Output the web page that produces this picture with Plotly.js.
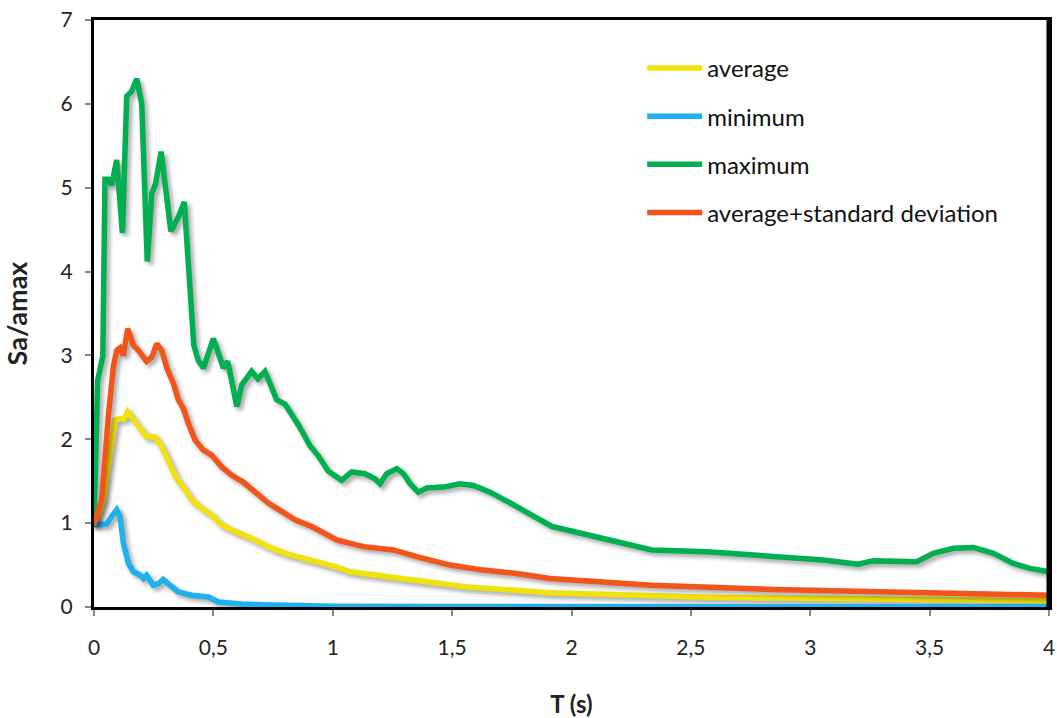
<!DOCTYPE html>
<html>
<head>
<meta charset="utf-8">
<script src="https://cdn.plot.ly/plotly-3.0.1.min.js"></script>
<style>
html,body{margin:0;padding:0;background:#fff;}
#chart{width:1057px;height:718px;}
.scatterlayer path.js-line{filter:drop-shadow(3px 3px 2px rgba(0,0,0,0.35));}
</style>
</head>
<body>
<div id="chart"></div>
<script>
// ---- data ----
const seriesNames = ["average", "minimum", "maximum", "average+standard deviation"];

const avgT = [0, 0.02, 0.039, 0.067, 0.088, 0.109, 0.125, 0.141, 0.165, 0.193, 0.22, 0.255, 0.284, 0.311, 0.346, 0.374, 0.409, 0.451, 0.493, 0.535, 0.591, 0.66, 0.73, 0.8, 0.912, 1.01, 1.072, 1.254, 1.394, 1.561, 1.77, 1.91, 2.566, 3.26, 4.0];
const avgSa = [0.98, 1.1, 1.28, 1.87, 2.23, 2.25, 2.24, 2.33, 2.23, 2.13, 2.03, 2.03, 1.91, 1.73, 1.53, 1.43, 1.28, 1.18, 1.10, 0.98, 0.90, 0.82, 0.72, 0.64, 0.56, 0.48, 0.42, 0.36, 0.30, 0.24, 0.19, 0.17, 0.115, 0.09, 0.075];

const minT = [0, 0.053, 0.074, 0.095, 0.109, 0.123, 0.144, 0.165, 0.193, 0.207, 0.22, 0.248, 0.27, 0.29, 0.318, 0.353, 0.409, 0.479, 0.521, 0.619, 0.8, 1.01, 1.5, 2.0, 3.0, 4.0];
const minSa = [0.98, 0.99, 1.08, 1.16, 1.08, 0.76, 0.52, 0.42, 0.38, 0.34, 0.38, 0.26, 0.28, 0.33, 0.26, 0.18, 0.14, 0.12, 0.06, 0.035, 0.02, 0.01, 0.005, 0.003, 0.002, 0.002];

const maxT = [0, 0.008, 0.015, 0.03, 0.037, 0.046, 0.06, 0.074, 0.095, 0.119, 0.137, 0.158, 0.179, 0.2, 0.223, 0.242, 0.258, 0.281, 0.322, 0.353, 0.378, 0.418, 0.437, 0.458, 0.5, 0.542, 0.56, 0.598, 0.619, 0.66, 0.686, 0.716, 0.765, 0.8, 0.856, 0.905, 0.94, 0.981, 1.037, 1.079, 1.135, 1.177, 1.198, 1.226, 1.268, 1.296, 1.324, 1.358, 1.394, 1.463, 1.533, 1.589, 1.659, 1.756, 1.84, 1.917, 2.008, 2.147, 2.336, 2.566, 2.845, 3.055, 3.2, 3.264, 3.446, 3.515, 3.6, 3.683, 3.767, 3.85, 3.92, 4.0];
const maxSa = [0.98, 2.0, 2.7, 2.9, 3.0, 5.1, 5.1, 5.03, 5.33, 4.46, 6.09, 6.15, 6.30, 6.0, 4.12, 4.93, 5.05, 5.43, 4.48, 4.65, 4.83, 3.12, 2.94, 2.85, 3.20, 2.85, 2.93, 2.39, 2.65, 2.81, 2.72, 2.81, 2.47, 2.42, 2.17, 1.92, 1.80, 1.62, 1.51, 1.61, 1.59, 1.53, 1.47, 1.59, 1.65, 1.59, 1.47, 1.37, 1.42, 1.43, 1.47, 1.45, 1.37, 1.22, 1.08, 0.96, 0.90, 0.80, 0.68, 0.66, 0.60, 0.56, 0.51, 0.55, 0.54, 0.64, 0.70, 0.71, 0.64, 0.52, 0.46, 0.42];

const sdT = [0, 0.015, 0.032, 0.06, 0.081, 0.095, 0.109, 0.123, 0.141, 0.165, 0.186, 0.22, 0.242, 0.263, 0.284, 0.305, 0.332, 0.353, 0.374, 0.395, 0.423, 0.458, 0.493, 0.535, 0.577, 0.625, 0.674, 0.73, 0.786, 0.842, 0.912, 0.981, 1.017, 1.128, 1.254, 1.352, 1.491, 1.631, 1.77, 1.91, 2.336, 2.845, 3.404, 3.68, 4.0];
const sdSa = [0.98, 1.1, 1.28, 2.27, 2.87, 3.06, 3.09, 3.0, 3.32, 3.12, 3.06, 2.93, 2.98, 3.14, 3.06, 2.85, 2.67, 2.47, 2.37, 2.19, 1.99, 1.87, 1.81, 1.67, 1.57, 1.49, 1.37, 1.24, 1.14, 1.04, 0.96, 0.86, 0.80, 0.72, 0.68, 0.60, 0.50, 0.44, 0.40, 0.34, 0.26, 0.21, 0.175, 0.16, 0.14];

const xTickVals = [0, 0.5, 1, 1.5, 2, 2.5, 3, 3.5, 4];
const xTickText = ["0", "0,5", "1", "1,5", "2", "2,5", "3", "3,5", "4"];
const yTickVals = [0, 1, 2, 3, 4, 5, 6, 7];

const colors = ["#F2E20C", "#1FB0EE", "#00B050", "#F2541A"];
const xs = [avgT, minT, maxT, sdT];
const ys = [avgSa, minSa, maxSa, sdSa];

const FONT = "Lato, 'Open Sans', sans-serif";

const traces = seriesNames.map((n, i) => ({
  type: "scatter",
  mode: "lines",
  name: n,
  x: xs[i],
  y: ys[i],
  legendgroup: "g" + i,
  line: {color: colors[i], width: 5.5, shape: "linear"}
}));

const layout = {
  width: 1057,
  height: 718,
  margin: {l: 94, r: 8, t: 20, b: 111},
  paper_bgcolor: "#fff",
  plot_bgcolor: "#fff",
  separators: ", ",
  font: {family: FONT, color: "#222", size: 21},
  showlegend: true,
  legend: {
    x: 0.574, y: 0.956, xanchor: "left", yanchor: "top",
    font: {family: FONT, size: 24, color: "#111"},
    bgcolor: "rgba(0,0,0,0)",
    itemwidth: 55,
    traceorder: "grouped",
    tracegroupgap: 14
  },
  xaxis: {
    range: [0, 4],
    tickvals: xTickVals,
    ticktext: xTickText,
    ticks: "outside", ticklen: 6, tickwidth: 2, tickcolor: "#888",
    ticklabelstandoff: 14,
    showgrid: false, zeroline: false,
    showline: true, linecolor: "#000", linewidth: 3, mirror: true,
    tickfont: {family: FONT, size: 21, color: "#222"},
    title: {text: "<b>T (s)</b>", font: {family: FONT, size: 24, color: "#222"}, standoff: 40}
  },
  yaxis: {
    range: [0, 7],
    tickvals: yTickVals,
    ticks: "outside", ticklen: 6, tickwidth: 2, tickcolor: "#888",
    ticklabelstandoff: 8,
    showgrid: false, zeroline: false,
    showline: true, linecolor: "#000", linewidth: 3, mirror: true,
    tickfont: {family: FONT, size: 21, color: "#222"},
    title: {text: "<b>Sa/amax</b>", font: {family: FONT, size: 27, color: "#222"}, standoff: 30}
  },
  shapes: [
    {type: "line", xref: "paper", yref: "paper", x0: 1, x1: 1, y0: 0, y1: 1, line: {color: "#000", width: 5}}
  ]
};

Plotly.newPlot("chart", traces, layout, {displayModeBar: false, staticPlot: true});
</script>
</body>
</html>
